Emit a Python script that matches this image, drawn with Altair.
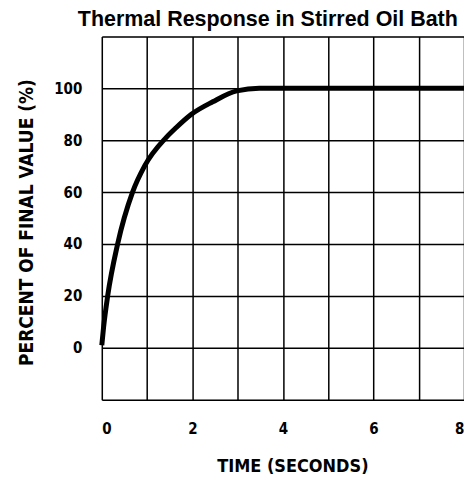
import altair as alt
import pandas as pd

# Data
time_s = [0.0, 0.04, 0.13, 0.35, 0.68, 0.95, 1.42, 1.64, 1.98, 2.45, 2.98, 3.48, 4.0, 5.0, 6.0, 7.0, 8.0]
percent = [1, 8, 20, 40, 60, 70.2, 81, 84.8, 90, 94.8, 99, 100, 100, 100, 100, 100, 100]

x_grid = [0, 1, 2, 3, 4, 5, 6, 7, 8]
y_grid = [-20, 0, 20, 40, 60, 80, 100, 120]

df = pd.DataFrame({"t": time_s, "v": percent})

FONT = "DejaVu Sans Condensed"

chart = (
    alt.Chart(df)
    .mark_line(color="black", strokeWidth=5, interpolate="monotone", strokeCap="butt")
    .encode(
        x=alt.X(
            "t:Q",
            scale=alt.Scale(domain=[0, 8], nice=False, zero=False),
            axis=alt.Axis(
                values=x_grid,
                labelExpr="datum.value % 2 == 0 ? datum.label : ''",
                title="TIME (SECONDS)",
                grid=True,
                gridColor="black",
                gridWidth=1.5,
                gridOpacity=1,
                domain=False,
                ticks=False,
                labelPadding=22,
                labelFont=FONT,
                labelFontSize=15,
                labelFontWeight="bold",
                labelColor="black",
                titleFont=FONT,
                titleFontSize=18,
                titleFontWeight="bold",
                titleColor="black",
                titlePadding=21,
                titleX=191,
            ),
        ),
        y=alt.Y(
            "v:Q",
            scale=alt.Scale(domain=[-20, 120], nice=False, zero=False),
            axis=alt.Axis(
                values=y_grid,
                labelExpr="datum.value >= 0 && datum.value <= 100 ? datum.label : ''",
                title="PERCENT OF FINAL VALUE (%)",
                grid=True,
                gridColor="black",
                gridWidth=1.5,
                gridOpacity=1,
                domain=False,
                ticks=False,
                labelPadding=20,
                labelFont=FONT,
                labelFontSize=15,
                labelFontWeight="bold",
                labelColor="black",
                titleFont=FONT,
                titleFontSize=19,
                titleFontWeight="bold",
                titleColor="black",
                titlePadding=17,
                titleY=186,
            ),
        ),
    )
    .properties(
        width=363,
        height=364,
        title=alt.TitleParams(
            "Thermal Response in Stirred Oil Bath",
            font="Liberation Sans",
            fontSize=21.5,
            fontWeight="bold",
            color="black",
            anchor="start",
            align="left",
            frame="group",
            dx=-24,
            dy=23,
            offset=7,
            baseline="bottom",
        ),
        autosize=alt.AutoSizeParams(type="none"),
        padding={"left": 94, "top": 28, "right": 0, "bottom": 80},
    )
    .configure_view(stroke="black", strokeWidth=2.5)
    .configure(background="white")
)

chart.save("out.html", embed_options={"renderer": "svg", "actions": False})
